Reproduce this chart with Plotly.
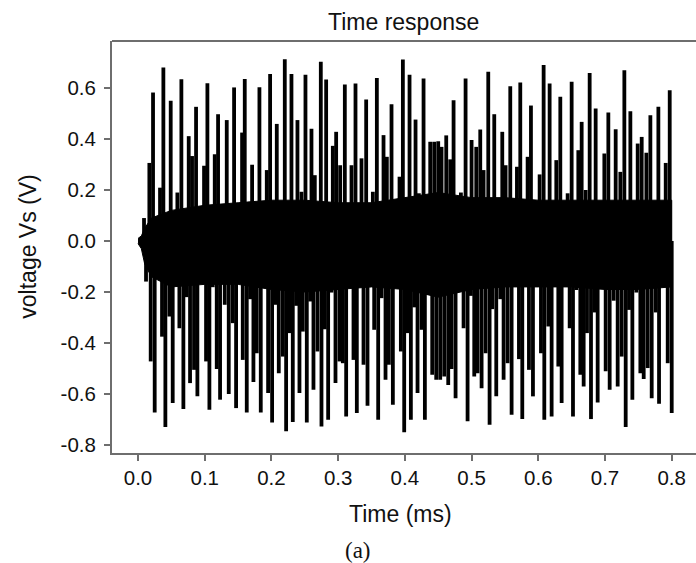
import plotly.graph_objects as go

# ---------------- data ----------------
x_ticks = [0.0, 0.1, 0.2, 0.3, 0.4, 0.5, 0.6, 0.7, 0.8]
x_tick_labels = ["0.0", "0.1", "0.2", "0.3", "0.4", "0.5", "0.6", "0.7", "0.8"]
y_ticks = [-0.8, -0.6, -0.4, -0.2, 0.0, 0.2, 0.4, 0.6]
y_tick_labels = ["-0.8", "-0.6", "-0.4", "-0.2", "0.0", "0.2", "0.4", "0.6"]

# positive spike peaks (time in ms, voltage in V)
pos_t = [0.009, 0.017, 0.0225, 0.033, 0.038, 0.049, 0.059, 0.065, 0.076, 0.081,
         0.087, 0.099, 0.104, 0.115, 0.120, 0.133, 0.144, 0.156, 0.160, 0.171,
         0.182, 0.193, 0.198, 0.208, 0.220, 0.230, 0.239, 0.245, 0.251, 0.260,
         0.265, 0.274, 0.282, 0.292, 0.297, 0.303, 0.310, 0.320, 0.326, 0.335,
         0.342, 0.352, 0.358, 0.368, 0.373, 0.380, 0.392, 0.397, 0.407, 0.416,
         0.421, 0.428, 0.438, 0.444, 0.450, 0.455, 0.462, 0.468, 0.473, 0.484,
         0.491, 0.500, 0.507, 0.513, 0.518, 0.525, 0.534, 0.546, 0.551, 0.558,
         0.568, 0.573, 0.584, 0.589, 0.602, 0.608, 0.617, 0.627, 0.633, 0.644,
         0.650, 0.660, 0.665, 0.671, 0.677, 0.686, 0.699, 0.705, 0.716, 0.723,
         0.729, 0.738, 0.749, 0.755, 0.762, 0.768, 0.773, 0.780, 0.791, 0.797]
pos_v = [0.090, 0.306, 0.582, 0.209, 0.680, 0.550, 0.190, 0.634, 0.411, 0.333,
         0.526, 0.295, 0.618, 0.340, 0.497, 0.474, 0.602, 0.425, 0.635, 0.299,
         0.603, 0.278, 0.655, 0.459, 0.712, 0.655, 0.474, 0.193, 0.652, 0.440,
         0.258, 0.703, 0.633, 0.373, 0.428, 0.297, 0.613, 0.297, 0.617, 0.324,
         0.555, 0.193, 0.639, 0.415, 0.330, 0.536, 0.252, 0.711, 0.652, 0.476,
         0.187, 0.637, 0.389, 0.389, 0.391, 0.369, 0.414, 0.320, 0.552, 0.190,
         0.637, 0.396, 0.369, 0.437, 0.278, 0.663, 0.497, 0.428, 0.297, 0.607,
         0.291, 0.621, 0.330, 0.531, 0.261, 0.690, 0.617, 0.317, 0.565, 0.187,
         0.624, 0.356, 0.467, 0.200, 0.659, 0.519, 0.343, 0.504, 0.438, 0.271,
         0.669, 0.509, 0.382, 0.408, 0.346, 0.493, 0.154, 0.526, 0.306, 0.591]

# negative spike troughs (time in ms, voltage in V)
neg_t = [0.012, 0.019, 0.025, 0.036, 0.041, 0.047, 0.052, 0.062, 0.068, 0.073,
         0.078, 0.084, 0.089, 0.095, 0.102, 0.107, 0.112, 0.118, 0.123, 0.130,
         0.136, 0.142, 0.147, 0.152, 0.157, 0.163, 0.168, 0.173, 0.178, 0.184,
         0.190, 0.195, 0.201, 0.206, 0.211, 0.217, 0.222, 0.227, 0.232, 0.237,
         0.242, 0.247, 0.253, 0.258, 0.263, 0.269, 0.275, 0.280, 0.285, 0.290,
         0.296, 0.302, 0.307, 0.312, 0.317, 0.323, 0.328, 0.333, 0.338, 0.344,
         0.349, 0.354, 0.360, 0.365, 0.371, 0.376, 0.382, 0.388, 0.394, 0.399,
         0.404, 0.409, 0.414, 0.419, 0.425, 0.430, 0.436, 0.441, 0.447, 0.453,
         0.459, 0.465, 0.470, 0.476, 0.482, 0.488, 0.494, 0.499, 0.504, 0.509,
         0.515, 0.521, 0.527, 0.531, 0.537, 0.543, 0.548, 0.554, 0.560, 0.565,
         0.571, 0.576, 0.581, 0.586, 0.592, 0.598, 0.604, 0.609, 0.615, 0.620,
         0.625, 0.630, 0.635, 0.641, 0.647, 0.652, 0.657, 0.663, 0.668, 0.673,
         0.679, 0.684, 0.689, 0.695, 0.701, 0.707, 0.713, 0.719, 0.725, 0.731,
         0.736, 0.741, 0.747, 0.753, 0.758, 0.764, 0.770, 0.776, 0.781, 0.788,
         0.794, 0.800]
neg_v = [-0.159, -0.472, -0.672, -0.375, -0.729, -0.296, -0.635, -0.342, -0.659, -0.220,
         -0.557, -0.505, -0.609, -0.159, -0.472, -0.661, -0.181, -0.502, -0.622, -0.250,
         -0.600, -0.322, -0.655, -0.153, -0.466, -0.672, -0.228, -0.553, -0.440, -0.672,
         -0.153, -0.596, -0.711, -0.250, -0.518, -0.453, -0.746, -0.361, -0.709, -0.254,
         -0.596, -0.355, -0.711, -0.237, -0.583, -0.433, -0.727, -0.346, -0.701, -0.202,
         -0.557, -0.472, -0.479, -0.688, -0.163, -0.466, -0.674, -0.176, -0.485, -0.646,
         -0.107, -0.348, -0.701, -0.224, -0.544, -0.485, -0.642, -0.137, -0.433, -0.750,
         -0.361, -0.701, -0.260, -0.596, -0.348, -0.701, -0.211, -0.524, -0.544, -0.544,
         -0.531, -0.564, -0.502, -0.616, -0.107, -0.342, -0.707, -0.215, -0.531, -0.518,
         -0.577, -0.440, -0.720, -0.267, -0.609, -0.228, -0.544, -0.479, -0.681, -0.157,
         -0.463, -0.698, -0.179, -0.505, -0.609, -0.142, -0.440, -0.701, -0.335, -0.688,
         -0.172, -0.492, -0.635, -0.103, -0.342, -0.688, -0.192, -0.524, -0.570, -0.361,
         -0.698, -0.280, -0.633, -0.181, -0.511, -0.583, -0.234, -0.570, -0.453, -0.729,
         -0.270, -0.622, -0.202, -0.518, -0.541, -0.498, -0.616, -0.280, -0.638, -0.159,
         -0.479, -0.674]

# dense oscillation core (upper / lower envelope)
core_t = [0.0, 0.005, 0.01, 0.02, 0.05, 0.1, 0.15, 0.2, 0.25, 0.3,
          0.35, 0.4, 0.45, 0.5, 0.55, 0.6, 0.65, 0.7, 0.75, 0.8]
core_hi = [0.01, 0.02, 0.05, 0.09, 0.12, 0.14, 0.15, 0.16, 0.16, 0.15,
           0.15, 0.17, 0.19, 0.17, 0.17, 0.16, 0.16, 0.16, 0.16, 0.16]
core_lo = [-0.01, -0.03, -0.09, -0.14, -0.18, -0.17, -0.17, -0.19, -0.20, -0.19,
           -0.18, -0.19, -0.22, -0.19, -0.18, -0.18, -0.18, -0.19, -0.19, -0.18]

assert len(pos_t) == len(pos_v) and len(neg_t) == len(neg_v)
assert len(core_t) == len(core_hi) == len(core_lo)

# ---------------- figure ----------------
W, H = 696, 563
ML, MR, MT, MB = 112, 0, 41, 110
TXT = "#111111"
AX = "#6e6e6e"
FONT = "Liberation Sans, Arial, sans-serif"

fig = go.Figure()

# core band
fig.add_trace(go.Scatter(
    x=core_t + core_t[::-1], y=core_hi + core_lo[::-1],
    fill="toself", fillcolor="black", mode="lines",
    line=dict(color="black", width=1), hoverinfo="skip", showlegend=False))

# spikes
sx, sy = [], []
for t, v in zip(pos_t, pos_v):
    sx += [t, t, None]
    sy += [0.0, v, None]
for t, v in zip(neg_t, neg_v):
    sx += [t, t, None]
    sy += [0.0, v, None]
fig.add_trace(go.Scatter(
    x=sx, y=sy, mode="lines", connectgaps=False,
    line=dict(color="black", width=3.8), hoverinfo="skip", showlegend=False))

fig.update_layout(
    width=W, height=H,
    margin=dict(l=ML, r=MR, t=MT, b=MB, pad=0),
    paper_bgcolor="white", plot_bgcolor="white",
    showlegend=False,
    font=dict(family=FONT, color=TXT),
    xaxis=dict(range=[-0.039, 0.8364], showgrid=False, zeroline=False,
               showline=True, linecolor=AX, linewidth=2,
               ticks="outside", ticklen=6, tickwidth=1.5, tickcolor=AX,
               tickvals=x_ticks, ticktext=x_tick_labels,
               tickfont=dict(size=20.5, color=TXT), ticklabelstandoff=-1),
    yaxis=dict(range=[-0.831, 0.784], showgrid=False, zeroline=False,
               showline=True, linecolor=AX, linewidth=2,
               ticks="outside", ticklen=6, tickwidth=1.5, tickcolor=AX,
               tickvals=y_ticks, ticktext=y_tick_labels,
               tickfont=dict(size=20.5, color=TXT), ticklabelstandoff=4),
    shapes=[dict(type="line", xref="paper", yref="paper", x0=0, x1=1, y0=1, y1=1,
                 line=dict(color=AX, width=2))],
)

pw = W - ML - MR
ph = H - MT - MB

def px_x(px):
    return (px - ML) / pw

def px_y(py):
    return (H - MB - py) / ph

fig.add_annotation(text="Time response", xref="paper", yref="paper",
                   x=px_x(403), y=px_y(22), xanchor="center", yanchor="middle",
                   showarrow=False, font=dict(size=23, color=TXT, family=FONT))
fig.add_annotation(text="Time (ms)", xref="paper", yref="paper",
                   x=px_x(400), y=px_y(514), xanchor="center", yanchor="middle",
                   showarrow=False, font=dict(size=23, color=TXT, family=FONT))
fig.add_annotation(text="voltage Vs (V)", xref="paper", yref="paper",
                   x=px_x(28), y=px_y(246.7), xanchor="center", yanchor="middle",
                   textangle=-90, showarrow=False,
                   font=dict(size=23, color=TXT, family=FONT))
fig.add_annotation(text="(a)", xref="paper", yref="paper",
                   x=px_x(358), y=px_y(550), xanchor="center", yanchor="middle",
                   showarrow=False,
                   font=dict(size=23, color=TXT, family="Liberation Serif, Times New Roman, serif"))

fig.write_html("out.html")
